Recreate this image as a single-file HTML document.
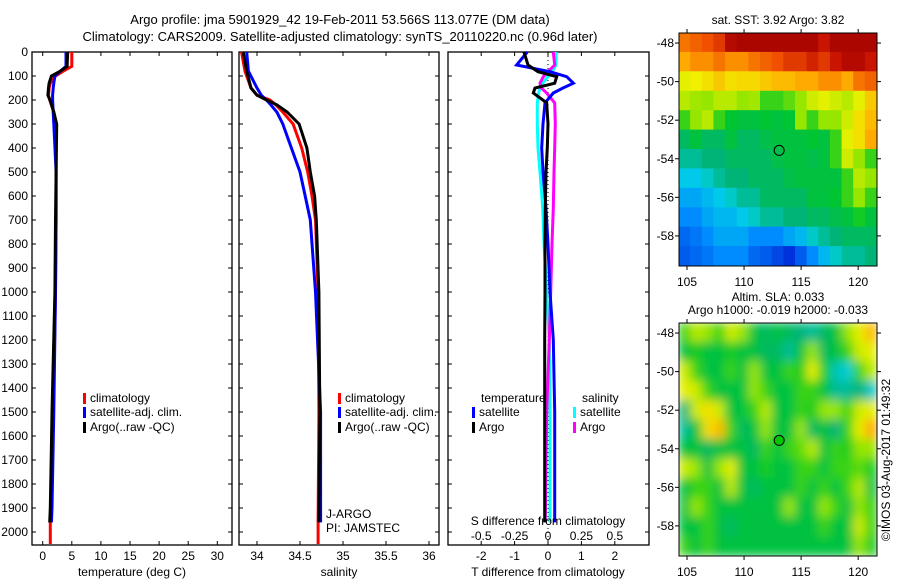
<!DOCTYPE html>
<html><head><meta charset="utf-8"><style>
html,body{margin:0;padding:0;background:#fff;}
svg{display:block;font-family:"Liberation Sans",sans-serif;}
text{font-size:12px;fill:#000;}
</style></head><body>
<svg id="fig" width="900" height="580" viewBox="0 0 900 580">
<text x="340" y="24" text-anchor="middle" style="font-size:13px">Argo profile: jma 5901929_42 19-Feb-2011 53.566S 113.077E (DM data)</text>
<text x="340" y="41" text-anchor="middle" style="font-size:13px">Climatology: CARS2009. Satellite-adjusted climatology: synTS_20110220.nc (0.96d later)</text>
<g id="g1"></g>
<g id="g2"></g>
<g id="g3"></g>
<g id="m1"></g>
<g id="m2"></g>
<text transform="translate(890,460) rotate(-90)" text-anchor="middle">©IMOS 03-Aug-2017 01:49:32</text>
</svg>
<script>
const depthTicks=[0,100,200,300,400,500,600,700,800,900,1000,1100,1200,1300,1400,1500,1600,1700,1800,1900,2000];
const tempTicks=[0,5,10,15,20,25,30];
const salTicks=[34,34.5,35,35.5,36];
const tdTicks=[-2,-1,0,1,2];
const sdTicks=[-0.5,-0.25,0,0.25,0.5];
const sdTickLabels=["-0.5","-0.25","0","0.25","0.5"];
const tDepth=[0,60,80,100,130,150,180,200,250,300,500,700,1000,1500,1900,1960];
const tClim=[5.0,5.0,3.5,2.2,1.3,1.1,1.0,1.2,1.9,2.3,2.3,2.3,2.2,1.8,1.4,1.3];
const tSat=[4.0,4.0,3.0,2.1,1.9,1.8,1.7,1.7,1.8,1.9,2.3,2.3,2.2,1.9,1.6,1.5];
const tArgo=[4.3,4.2,3.0,1.5,1.1,1.0,0.9,1.25,1.9,2.4,2.3,2.2,2.1,1.6,1.3,1.2];
const tClimDeep=[1.3,1.3];
const sDepth=[0,80,150,180,200,220,250,300,400,500,600,700,1000,1500,1960];
const sClim=[33.82,33.86,33.93,34.0,34.15,34.22,34.3,34.42,34.52,34.59,34.64,34.68,34.71,34.72,34.71];
const sSat=[33.88,33.9,34.0,34.05,34.11,34.16,34.23,34.3,34.4,34.5,34.56,34.62,34.68,34.74,34.74];
const sArgo=[33.84,33.88,33.93,34.0,34.11,34.23,34.35,34.49,34.58,34.62,34.67,34.69,34.72,34.73,34.72];
const dDepth=[0,54,82,103,130,150,171,212,300,400,500,650,800,1000,1200,1500,1960];
const dTSat=[-0.62,-0.94,0.06,0.56,0.76,0.45,0.16,-0.09,-0.15,-0.19,-0.15,-0.06,0.0,0.06,0.16,0.2,0.2];
const dTArgo=[-0.72,-0.6,-0.3,0.26,0.2,-0.39,-0.44,-0.04,0.0,-0.02,-0.06,-0.08,-0.09,-0.09,-0.1,-0.1,-0.1];
const dSArgo=[0.04,0.05,0.0,-0.035,-0.06,-0.05,-0.01,0.05,0.055,0.05,0.045,0.04,0.03,0.02,0.01,-0.01,-0.02];
const dSSat=[0.06,0.06,0.03,0.0,-0.04,-0.06,-0.07,-0.08,-0.08,-0.075,-0.06,-0.04,-0.03,-0.01,0.01,0.015,0.015];
const sstRows=[
[0.78,0.8,0.82,0.85,0.95,0.97,0.97,0.97,0.97,0.97,0.97,0.97,0.9,0.97,0.97,0.97,0.97],
[0.72,0.75,0.75,0.78,0.75,0.75,0.78,0.8,0.82,0.85,0.85,0.88,0.85,0.9,0.95,0.95,0.9],
[0.62,0.63,0.65,0.68,0.65,0.66,0.66,0.68,0.7,0.7,0.72,0.72,0.75,0.75,0.72,0.78,0.8],
[0.58,0.56,0.55,0.58,0.58,0.55,0.56,0.5,0.5,0.52,0.55,0.6,0.62,0.6,0.58,0.62,0.68],
[0.5,0.55,0.58,0.5,0.46,0.45,0.45,0.46,0.45,0.46,0.55,0.5,0.55,0.55,0.6,0.65,0.7],
[0.42,0.45,0.42,0.42,0.45,0.42,0.42,0.44,0.45,0.45,0.45,0.46,0.45,0.5,0.62,0.65,0.72],
[0.38,0.38,0.4,0.4,0.42,0.42,0.42,0.42,0.44,0.45,0.45,0.44,0.45,0.5,0.6,0.55,0.5],
[0.32,0.32,0.35,0.38,0.4,0.4,0.42,0.42,0.42,0.44,0.45,0.45,0.45,0.45,0.5,0.58,0.55],
[0.28,0.28,0.3,0.32,0.35,0.38,0.38,0.42,0.42,0.42,0.42,0.45,0.45,0.46,0.5,0.55,0.5],
[0.25,0.25,0.28,0.3,0.3,0.32,0.35,0.38,0.38,0.4,0.4,0.42,0.42,0.44,0.45,0.48,0.45],
[0.2,0.22,0.25,0.28,0.28,0.28,0.25,0.25,0.25,0.28,0.3,0.35,0.38,0.4,0.42,0.42,0.42],
[0.18,0.2,0.22,0.25,0.25,0.25,0.2,0.18,0.15,0.12,0.18,0.25,0.3,0.35,0.38,0.38,0.4]];
const slaRows=[
[0.5,0.58,0.55,0.5,0.6,0.55,0.45,0.42,0.45,0.42,0.4,0.38,0.42,0.45,0.55,0.62,0.7],
[0.45,0.48,0.45,0.45,0.48,0.45,0.45,0.42,0.42,0.38,0.45,0.55,0.42,0.45,0.5,0.6,0.62],
[0.6,0.5,0.45,0.45,0.5,0.45,0.55,0.45,0.45,0.5,0.48,0.62,0.48,0.36,0.34,0.5,0.58],
[0.62,0.6,0.5,0.45,0.45,0.45,0.55,0.5,0.45,0.45,0.5,0.5,0.45,0.38,0.38,0.4,0.35],
[0.4,0.6,0.65,0.6,0.45,0.45,0.5,0.58,0.45,0.45,0.5,0.48,0.55,0.55,0.5,0.6,0.62],
[0.38,0.45,0.65,0.7,0.5,0.42,0.45,0.55,0.45,0.45,0.55,0.42,0.45,0.4,0.5,0.62,0.72],
[0.45,0.45,0.42,0.45,0.45,0.45,0.42,0.5,0.45,0.5,0.52,0.58,0.45,0.5,0.48,0.55,0.55],
[0.6,0.55,0.45,0.55,0.62,0.45,0.45,0.48,0.45,0.45,0.5,0.5,0.45,0.5,0.5,0.52,0.48],
[0.45,0.5,0.5,0.45,0.58,0.45,0.42,0.45,0.45,0.45,0.5,0.45,0.5,0.45,0.5,0.58,0.45],
[0.45,0.55,0.5,0.45,0.45,0.45,0.45,0.45,0.45,0.55,0.45,0.45,0.55,0.5,0.45,0.55,0.5],
[0.45,0.45,0.5,0.45,0.42,0.45,0.45,0.45,0.45,0.45,0.45,0.45,0.5,0.45,0.45,0.6,0.5],
[0.5,0.45,0.5,0.45,0.45,0.45,0.45,0.45,0.45,0.45,0.45,0.45,0.45,0.45,0.45,0.55,0.48]];
const lonTicks=[105,110,115,120];
const latTicks=[-48,-50,-52,-54,-56,-58];
const floatLon=113.077, floatLat=-53.566;

const NS="http://www.w3.org/2000/svg";
function mk(p,tag,a,txt){const e=document.createElementNS(NS,tag);for(const k in a)e.setAttribute(k,a[k]);if(txt!==undefined)e.textContent=txt;p.appendChild(e);return e;}
const yD=d=>52+d*0.24;
const PT=545;
function frame(g,x0,x1){
  const r=mk(g,'rect',{x:x0,y:52,width:x1-x0,height:PT-52,fill:'none',stroke:'#000','stroke-width':1.3});
  
  
}
function line(g,xs,ds,fx,col,name){
  const pts=xs.map((v,i)=>fx(v).toFixed(1)+','+yD(ds[i]).toFixed(1)).join(' ');
  const p=mk(g,'polyline',{points:pts,fill:'none',stroke:col,'stroke-width':3,'stroke-linejoin':'miter'});
  
  
}
function xtick(g,x,lab,y){mk(g,'line',{x1:x,y1:52,x2:x,y2:56,stroke:'#000'});mk(g,'line',{x1:x,y1:PT,x2:x,y2:PT-4,stroke:'#000'});
  if(lab!==null){const t=mk(g,'text',{x:x,y:y,'text-anchor':'middle'},lab);}}
function legend(g,x,y,col,lab){mk(g,'rect',{x:x,y:y-9,width:3,height:11,fill:col});const t=mk(g,'text',{x:x+7,y:y},lab);
  }

const g1=document.getElementById('g1');
const xT=v=>42.7+v*5.82;
frame(g1,32,232);
depthTicks.forEach(d=>{mk(g1,'line',{x1:32,y1:yD(d),x2:36,y2:yD(d),stroke:'#000'});mk(g1,'line',{x1:232,y1:yD(d),x2:228,y2:yD(d),stroke:'#000'});
  const t=mk(g1,'text',{x:28,y:yD(d)+4,'text-anchor':'end'},String(d));});
tempTicks.forEach(v=>xtick(g1,xT(v),String(v),560));
line(g1,tClim,tDepth,xT,'#f00','temp-climatology');
line(g1,tClimDeep,[1960,2050],xT,'#f00','temp-climatology-deep');
line(g1,tSat,tDepth,xT,'#00f','temp-satellite-adj');
line(g1,tArgo,tDepth,xT,'#000','temp-argo');
mk(g1,'text',{x:132,y:576,'text-anchor':'middle'},'temperature (deg C)');
legend(g1,83,402,'#f00','climatology');legend(g1,83,416,'#00f','satellite-adj. clim.');legend(g1,83,431,'#000','Argo(..raw -QC)');

const g2=document.getElementById('g2');
const xS=v=>257+(v-34)*86;
frame(g2,239,439);
depthTicks.forEach(d=>{mk(g2,'line',{x1:239,y1:yD(d),x2:243,y2:yD(d),stroke:'#000'});mk(g2,'line',{x1:439,y1:yD(d),x2:435,y2:yD(d),stroke:'#000'});});
salTicks.forEach(v=>xtick(g2,xS(v),String(v),560));
line(g2,sClim,sDepth,xS,'#f00','sal-climatology');
line(g2,[sClim[sClim.length-1],sClim[sClim.length-1]],[1960,2050],xS,'#f00','sal-climatology-deep');
line(g2,sSat,sDepth,xS,'#00f','sal-satellite-adj');
line(g2,sArgo,sDepth,xS,'#000','sal-argo');
mk(g2,'text',{x:339,y:576,'text-anchor':'middle'},'salinity');
legend(g2,338,402,'#f00','climatology');legend(g2,338,416,'#00f','satellite-adj. clim.');legend(g2,338,431,'#000','Argo(..raw -QC)');
mk(g2,'text',{x:326,y:518},'J-ARGO');
mk(g2,'text',{x:326,y:532},'PI: JAMSTEC');

const g3=document.getElementById('g3');
const xTd=v=>548+v*33.4, xSd=v=>548+v*133.6;
frame(g3,448,649);
depthTicks.forEach(d=>{mk(g3,'line',{x1:448,y1:yD(d),x2:452,y2:yD(d),stroke:'#000'});mk(g3,'line',{x1:649,y1:yD(d),x2:645,y2:yD(d),stroke:'#000'});});
tdTicks.forEach(v=>xtick(g3,xTd(v),String(v),560));
sdTicks.forEach((v,i)=>{const t=mk(g3,'text',{x:xSd(v),y:540,'text-anchor':'middle'},sdTickLabels[i]);});
mk(g3,'line',{x1:548,y1:52,x2:548,y2:PT,stroke:'#000','stroke-dasharray':'1,3'});
line(g3,dSSat,dDepth,xSd,'#0ff','sdiff-satellite');
line(g3,dSArgo,dDepth,xSd,'#f0f','sdiff-argo');
line(g3,dTSat,dDepth,xTd,'#00f','tdiff-satellite');
line(g3,dTArgo,dDepth,xTd,'#000','tdiff-argo');
mk(g3,'text',{x:548,y:525,'text-anchor':'middle'},'S difference from climatology');
mk(g3,'text',{x:548,y:576,'text-anchor':'middle'},'T difference from climatology');
mk(g3,'text',{x:481,y:402},'temperature');mk(g3,'text',{x:582,y:402},'salinity');
legend(g3,472,416,'#00f','satellite');legend(g3,472,431,'#000','Argo');
legend(g3,573,416,'#0ff','satellite');legend(g3,573,431,'#f0f','Argo');

const stops=[[0,[0,0,140]],[0.12,[0,50,220]],[0.25,[0,140,255]],[0.33,[0,210,230]],[0.4,[0,180,120]],[0.47,[0,200,40]],[0.55,[150,230,0]],[0.63,[240,240,0]],[0.72,[255,170,0]],[0.82,[240,80,0]],[0.9,[200,20,0]],[1,[160,0,0]]];
function cmap(v){for(let i=1;i<stops.length;i++){if(v<=stops[i][0]){const a=stops[i-1],b=stops[i],t=(v-a[0])/(b[0]-a[0]);
  return 'rgb('+a[1].map((c,k)=>Math.round(c+(b[1][k]-c)*t)).join(',')+')';}}return 'rgb(160,0,0)';}
const defs=mk(document.getElementById('fig'),'defs',{});
const f=mk(defs,'filter',{id:'bl',x:'-5%',y:'-5%',width:'110%',height:'110%'});mk(f,'feGaussianBlur',{stdDeviation:5,edgeMode:'duplicate'});
function map(id,top,rows,title1,title2,blur,circleFill){
  const g=document.getElementById(id);
  const L=679,R=877,B=top+233;
  const lon0=104.3,lon1=121.65,lat0=-47.48,lat1=-59.56;
  const xL=v=>L+(v-lon0)/(lon1-lon0)*(R-L), yL=v=>top+(v-lat0)/(lat1-lat0)*(B-top);
  const nr=rows.length,nc=rows[0].length;
  const cw=(R-L)/nc,ch=(B-top)/nr;
  const cp=mk(g,'clipPath',{id:'clip'+id});mk(cp,'rect',{x:L,y:top,width:R-L,height:B-top});
  const outer=mk(g,'g',{'clip-path':'url(#clip'+id+')'});
  const cg=blur?mk(outer,'g',{filter:'url(#bl)'}):outer;
  rows.forEach((row,r)=>row.forEach((v,c)=>{
    const e=mk(cg,'rect',{x:(L+c*cw-0.5).toFixed(1),y:(top+r*ch-0.5).toFixed(1),width:(cw+1).toFixed(1),height:(ch+1).toFixed(1),fill:cmap(v)});
    
    
  }));
  mk(g,'rect',{x:L,y:top,width:R-L,height:B-top,fill:'none',stroke:'#000'});
  lonTicks.forEach(v=>{mk(g,'line',{x1:xL(v),y1:B,x2:xL(v),y2:B+4,stroke:'#000'});mk(g,'line',{x1:xL(v),y1:top,x2:xL(v),y2:top-4,stroke:'#000'});
    const t=mk(g,'text',{x:xL(v),y:B+20,'text-anchor':'middle'},String(v));});
  latTicks.forEach(v=>{mk(g,'line',{x1:L-4,y1:yL(v),x2:L,y2:yL(v),stroke:'#000'});mk(g,'line',{x1:R,y1:yL(v),x2:R+4,y2:yL(v),stroke:'#000'});
    const t=mk(g,'text',{x:L-5,y:yL(v)+4,'text-anchor':'end'},String(v));});
  const c=mk(g,'circle',{cx:xL(floatLon),cy:yL(floatLat),r:5,fill:circleFill,stroke:'#000','stroke-width':1});
  
  
  if(title2){mk(g,'text',{x:778,y:top-22,'text-anchor':'middle'},title1);mk(g,'text',{x:778,y:top-9,'text-anchor':'middle'},title2);}
  else mk(g,'text',{x:778,y:top-9,'text-anchor':'middle'},title1);
}
map('m1',33,sstRows,'sat. SST: 3.92 Argo: 3.82',null,false,'none');
map('m2',323,slaRows,'Altim. SLA: 0.033','Argo h1000: -0.019 h2000: -0.033',true,'#00c800');
</script>
</body></html>
